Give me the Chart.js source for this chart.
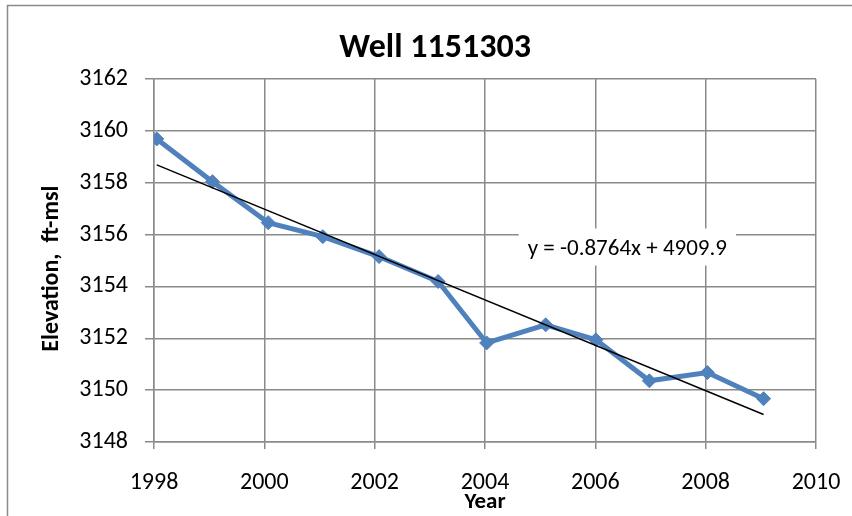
<!DOCTYPE html>
<html>
<head>
  <title>Well 1151303</title>
  <script src="https://cdn.jsdelivr.net/npm/chart.js@4/dist/chart.umd.min.js"></script>
  <style>
    body { margin: 0; background: #fff; }
  </style>
</head>
<body>
  <canvas id="wellChart" width="852" height="516"></canvas>
  <script>
    // measurement dates (decimal years) and water level elevations
    var years = [1998.05, 1999.06, 2000.07, 2001.06, 2002.08, 2003.15, 2004.03, 2005.1, 2006.01, 2006.98, 2008.03, 2009.05];
    var elevations = [3159.69, 3158.04, 3156.46, 3155.92, 3155.15, 3154.19, 3151.82, 3152.52, 3151.94, 3150.36, 3150.68, 3149.67];
    var xTicks = [1998, 2000, 2002, 2004, 2006, 2008, 2010];
    var yTicks = [3148, 3150, 3152, 3154, 3156, 3158, 3160, 3162];
    var trendLabel = 'y = -0.8764x + 4909.9';

    var fontFamily = "Carlito, 'Liberation Sans', Arial, sans-serif";

    // least squares line, like the excel trendline
    function fitLine(xs, ys) {
      var n = xs.length, sx = 0, sy = 0, sxx = 0, sxy = 0;
      for (var i = 0; i < n; i++) {
        sx += xs[i]; sy += ys[i];
        sxx += xs[i] * xs[i]; sxy += xs[i] * ys[i];
      }
      var slope = (n * sxy - sx * sy) / (n * sxx - sx * sx);
      var intercept = (sy - slope * sx) / n;
      return { slope: slope, intercept: intercept };
    }
    var fit = fitLine(years, elevations);
    var xFirst = years[0], xLast = years[years.length - 1];
    var trendData = [
      { x: xFirst, y: fit.slope * xFirst + fit.intercept },
      { x: xLast, y: fit.slope * xLast + fit.intercept }
    ];

    var seriesData = years.map((yr, i) => ({ x: yr, y: elevations[i] }));

    var decorPlugin = {
      id: 'decor',
      beforeDraw(chart) {
        var c = chart.ctx;
        c.save();
        c.fillStyle = '#fff';
        c.fillRect(0, 0, chart.width, chart.height);
        c.strokeStyle = '#8a8a8a';
        c.lineWidth = 1.5;
        c.strokeRect(7.5, 5.5, chart.width + 20, chart.height + 20);
        c.fillStyle = '#000';
        c.font = 'bold 34px ' + fontFamily;
        c.textAlign = 'center';
        c.textBaseline = 'alphabetic';
        c.fillText('Well 1151303', 435, 57);
        c.restore();
      },
      afterDatasetsDraw(chart) {
        // trendline equation box
        var c = chart.ctx;
        var xs = chart.scales.x, ys = chart.scales.y;
        var px = xs.getPixelForValue(2006.58);
        var py = ys.getPixelForValue(3155.54);
        c.save();
        c.font = '23px ' + fontFamily;
        var w = c.measureText(trendLabel).width + 18;
        c.fillStyle = '#fff';
        c.fillRect(px - w / 2, py - 18, w, 37);
        c.fillStyle = '#000';
        c.textAlign = 'center';
        c.textBaseline = 'middle';
        c.fillText(trendLabel, px, py + 3);
        c.restore();
      }
    };

    new Chart(document.getElementById('wellChart'), {
      type: 'scatter',
      data: {
        datasets: [{
          label: 'Trend',
          data: trendData,
          showLine: true,
          borderColor: '#000',
          borderWidth: 1.5,
          pointRadius: 0,
          order: 0
        }, {
          label: 'Elevation',
          data: seriesData,
          showLine: true,
          borderColor: '#4F81BD',
          backgroundColor: '#4F81BD',
          borderWidth: 5,
          pointStyle: 'rectRot',
          pointRadius: 7,
          pointBorderWidth: 1,
          pointBorderColor: '#4F81BD',
          order: 1
        }]
      },
      options: {
        responsive: false,
        animation: false,
        devicePixelRatio: 1,
        layout: { padding: { left: 0, right: 36, top: 79, bottom: 0 } },
        plugins: {
          legend: { display: false },
          tooltip: { enabled: false }
        },
        scales: {
          x: {
            type: 'linear',
            position: 'bottom',
            min: xTicks[0],
            max: xTicks[xTicks.length - 1],
            afterBuildTicks: (s) => { s.ticks = xTicks.map(v => ({ value: v })); },
            afterFit: (s) => {
              s.height = 74;
              // labels fit inside the layout padding already
              s.paddingLeft = 0;
              s.paddingRight = 0;
            },
            grid: { color: '#8a8a8a', lineWidth: 1.5, tickLength: 7 },
            border: { color: '#8a8a8a', width: 1.5 },
            ticks: {
              color: '#000',
              padding: 20,
              maxRotation: 0,
              font: { family: fontFamily, size: 24 },
              callback: (v) => String(v)
            },
            title: {
              display: true,
              text: 'Year',
              color: '#000',
              padding: { top: 0, bottom: 0 },
              font: { family: fontFamily, size: 23, weight: 'bold' }
            }
          },
          y: {
            type: 'linear',
            min: yTicks[0],
            max: yTicks[yTicks.length - 1],
            afterBuildTicks: (s) => { s.ticks = yTicks.map(v => ({ value: v })); },
            afterFit: (s) => { s.width = 154; },
            grid: { color: '#8a8a8a', lineWidth: 1.5, tickLength: 9 },
            border: { color: '#8a8a8a', width: 1.5 },
            ticks: {
              color: '#000',
              padding: 17,
              font: { family: fontFamily, size: 24 },
              callback: (v) => String(v)
            },
            title: {
              display: true,
              text: 'Elevation,  ft-msl   ',
              color: '#000',
              padding: { top: 38, bottom: 0 },
              font: { family: fontFamily, size: 24, weight: 'bold' }
            }
          }
        }
      },
      plugins: [decorPlugin]
    });
  </script>
</body>
</html>
